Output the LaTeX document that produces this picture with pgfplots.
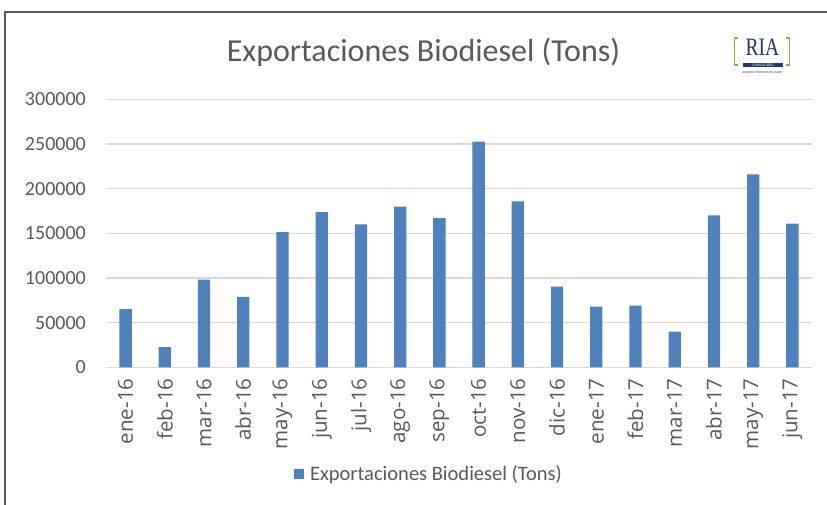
\documentclass[border=0pt]{standalone}
\usepackage{pgfplots}
\pgfplotsset{compat=1.18}
\usepackage{fontspec}
\setmainfont{Carlito}
\newfontfamily\logofont{Liberation Serif}
\newfontfamily\xfont{Open Sans}
\definecolor{barblue}{RGB}{79,129,189}
\definecolor{txtgray}{RGB}{89,89,89}
\definecolor{gridgray}{RGB}{217,217,217}
\definecolor{framegray}{RGB}{90,90,90}
\definecolor{logonavy}{RGB}{31,56,110}
\definecolor{logogreen}{RGB}{122,182,72}

\pgfplotstableread{
x y
0 65000
1 22700
2 98100
3 78700
4 151400
5 173800
6 160100
7 179800
8 167100
9 252500
10 185800
11 90300
12 67900
13 69000
14 39900
15 170100
16 216000
17 160800
}\exportdata

\begin{document}
\begin{tikzpicture}[x=1pt,y=1pt]
\useasboundingbox (0,0) rectangle (827,504);
\fill[white] (0,0) rectangle (827,504);
\draw[line width=1.6pt, framegray] (5,-2) -- (5,492) -- (830,492);
\node[font=\fontsize{32}{38}\selectfont, text=txtgray] at (423.5,452) {Exportaciones Biodiesel (Tons)};
% logo
\draw[logogreen, line width=1.6pt] (738,466) -- (734.5,466) -- (734.5,439) -- (738,439);
\draw[logogreen, line width=1.6pt] (786,466) -- (789.5,466) -- (789.5,439) -- (786,439);
\node[font=\logofont\fontsize{25}{25}\selectfont, text=logonavy, xscale=0.78, inner sep=0] at (762.5,456.5) {RIA};
\fill[logonavy] (743,436.7) rectangle (783,441.3);
\node[font=\fontsize{3.6}{4}\selectfont, text=white, inner sep=0] at (763,439) {CONSULTORES};
\node[font=\fontsize{3.2}{4}\selectfont, text=logonavy, inner sep=0] at (762.5,432) {ASUNTOS PÚBLICOS DEL AGRO};
\begin{axis}[
  at={(106pt,136.7pt)}, anchor=south west,
  scale only axis, width=706pt, height=268pt,
  xmin=-0.5, xmax=17.5, ymin=0, ymax=300000,
  scaled y ticks=false,
  axis line style={draw=none},
  ymajorgrids, major grid style={draw=gridgray, line width=1.3pt},
  major tick length=0pt,
  ytick={0,50000,100000,150000,200000,250000,300000},
  yticklabels={0,50000,100000,150000,200000,250000,300000},
  xtick={0,...,17},
  xticklabels={ene-16,feb-16,mar-16,abr-16,may-16,jun-16,jul-16,ago-16,sep-16,oct-16,nov-16,dic-16,ene-17,feb-17,mar-17,abr-17,may-17,jun-17},
  yticklabel style={font=\fontsize{20}{24}\selectfont, text=txtgray, anchor=east, inner sep=0pt, xshift=-20pt},
  xticklabel style={font=\xfont\fontsize{20.5}{24}\selectfont, text=txtgray, yshift=-11pt, rotate=90, anchor=east, inner sep=0pt},
  legend style={at={(0.4568,-0.398)}, anchor=center, draw=none, fill=none,
    font=\fontsize{20.5}{24}\selectfont, text=txtgray, inner sep=0pt,
    nodes={inner sep=1pt}},
  legend cell align=left,
]
\addplot[ybar, fill=barblue, draw=none, bar width=0.314,
  legend image code/.code={\fill[barblue] (0pt,-5pt) rectangle (10pt,5pt); \path (0pt,0pt) -- (15pt,0pt);}]
  table[x=x, y=y] {\exportdata};
\addlegendentry{Exportaciones Biodiesel (Tons)}
\end{axis}
\end{tikzpicture}
\end{document}
